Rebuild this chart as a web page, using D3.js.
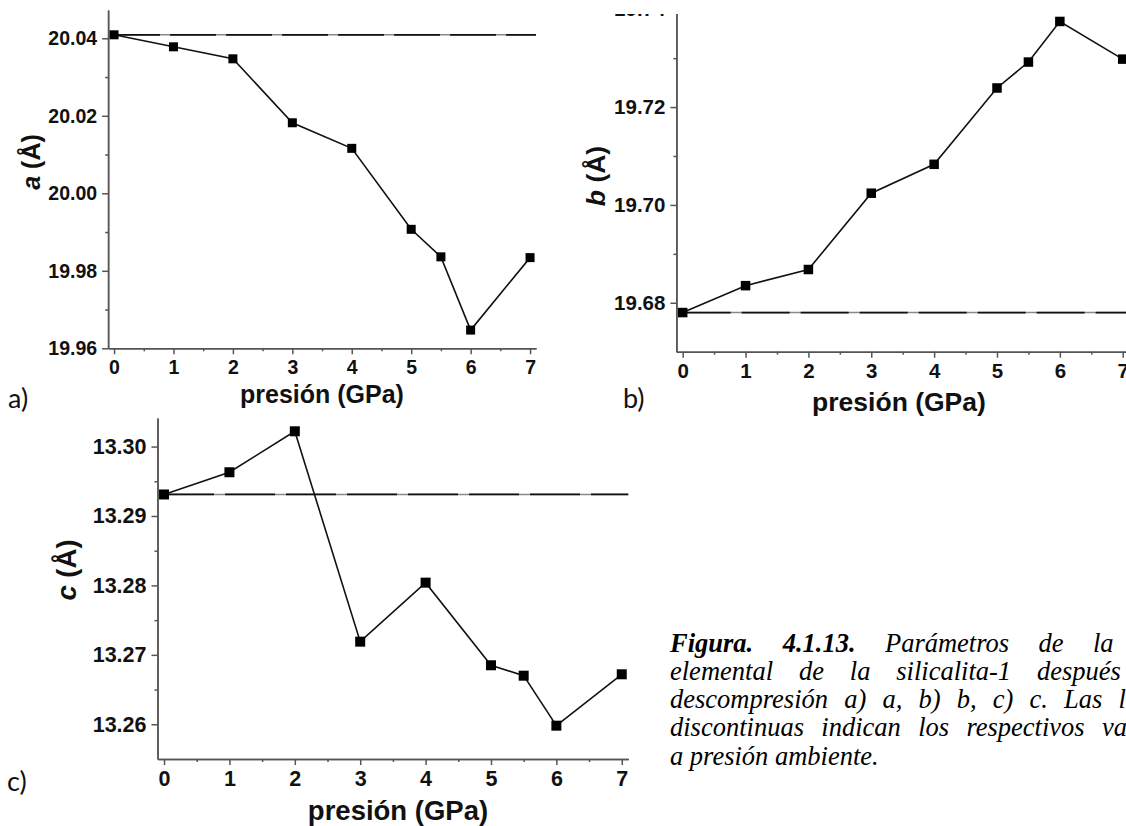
<!DOCTYPE html>
<html>
<head>
<meta charset="utf-8">
<script src="https://cdn.jsdelivr.net/npm/d3@7"></script>
<style>
  body { margin: 0; background: #fff; }
  svg { display: block; }
  .axis path, .axis line { stroke: #555; stroke-width: 1.5; }
  .axis text { font-family: "Liberation Sans", Arial, sans-serif; font-weight: bold; fill: #111; }
  .title { font-family: "Liberation Sans", Arial, sans-serif; font-weight: bold; fill: #111; }
  .tag { font-family: Lato, "Open Sans", sans-serif; fill: #111; }
  .caption { font-family: "Liberation Serif", "Times New Roman", serif; font-style: italic; fill: #000; font-size: 26.5px; }
</style>
</head>
<body>
<div id="chart"></div>
<script>
var W = 1126, H = 826;

// data
var pressure = [0, 1, 2, 3, 4, 5, 5.5, 6, 7];
var aValues = [20.0409, 20.0378, 20.0347, 20.0182, 20.0116, 19.9907, 19.9836, 19.9647, 19.9834];
var bValues = [19.6780, 19.6835, 19.6868, 19.7024, 19.7083, 19.7239, 19.7292, 19.7375, 19.7298];
var cValues = [13.2931, 13.2963, 13.3022, 13.2719, 13.2804, 13.2685, 13.2670, 13.2598, 13.2672];
var aAmbient = 20.0409, bAmbient = 19.6780, cAmbient = 13.2931;

var xTicks = [0, 1, 2, 3, 4, 5, 6, 7];
var xMinor = [0.5, 1.5, 2.5, 3.5, 4.5, 5.5, 6.5];
var aTicks = [19.96, 19.98, 20.00, 20.02, 20.04];
var aMinor = [19.97, 19.99, 20.01, 20.03];
var bTicks = [19.68, 19.70, 19.72, 19.74];
var bMinor = [19.69, 19.71, 19.73];
var cTicks = [13.26, 13.27, 13.28, 13.29, 13.30];
var cMinor = [13.265, 13.275, 13.285, 13.295];

var svg = d3.select("#chart").append("svg")
    .attr("width", W)
    .attr("height", H);

function panel(p) {
  var x = d3.scaleLinear().domain([-0.1, 7.1]).range(p.xr),
      y = d3.scaleLinear().domain(p.yd).range(p.yr),
      g = svg.append("g");

  var bottom = p.yr[0], left = p.xr[0];

  g.append("g").attr("class", "axis")
      .attr("transform", "translate(0," + bottom + ")")
      .call(d3.axisBottom(x).tickValues(xMinor).tickSize(3).tickSizeOuter(0).tickFormat(""));
  g.append("g").attr("class", "axis")
      .attr("transform", "translate(0," + bottom + ")")
      .call(d3.axisBottom(x).tickValues(xTicks).tickSize(6).tickSizeOuter(0).tickPadding(6)
        .tickFormat(d3.format("d")))
      .selectAll("text").style("font-size", p.fs + "px");

  g.append("g").attr("class", "axis")
      .attr("transform", "translate(" + left + ",0)")
      .call(d3.axisLeft(y).tickValues(p.minor).tickSize(3).tickSizeOuter(0).tickFormat(""));
  g.append("g").attr("class", "axis")
      .attr("transform", "translate(" + left + ",0)")
      .call(d3.axisLeft(y).tickValues(p.ticks).tickSize(6).tickSizeOuter(0).tickPadding(5)
        .tickFormat(d3.format(".2f")))
      .selectAll("text").style("font-size", p.fs + "px");

  // ambient pressure reference: black dashes over a grey line
  g.append("line")
      .attr("x1", x(0)).attr("x2", x(7.1))
      .attr("y1", y(p.ambient)).attr("y2", y(p.ambient))
      .attr("stroke", "#8a8a8a").attr("stroke-width", 1.4);
  g.append("line")
      .attr("x1", x(0)).attr("x2", x(7.1))
      .attr("y1", y(p.ambient)).attr("y2", y(p.ambient))
      .attr("stroke", "#111").attr("stroke-width", 1.8)
      .attr("stroke-dasharray", p.dash);

  var pts = pressure.map(function(d, i) { return [x(d), y(p.values[i])]; });

  g.append("path")
      .attr("d", d3.line()(pts))
      .attr("fill", "none")
      .attr("stroke", "#111")
      .attr("stroke-width", 1.6);

  g.selectAll("rect.m")
      .data(pts)
    .enter().append("rect")
      .attr("class", "m")
      .attr("x", function(d) { return d[0] - p.ms / 2; })
      .attr("y", function(d) { return d[1] - p.ms / 2; })
      .attr("width", p.ms)
      .attr("height", p.ms)
      .attr("fill", "#000");

  g.append("text").attr("class", "title")
      .attr("x", p.xt[0]).attr("y", p.xt[1])
      .attr("text-anchor", "middle")
      .style("font-size", p.ts + "px")
      .text("presión (GPa)");

  var yt = g.append("text").attr("class", "title")
      .attr("transform", "translate(" + p.yt[0] + "," + p.yt[1] + ")rotate(-90)")
      .attr("text-anchor", "middle")
      .attr("dominant-baseline", "central")
      .style("font-size", p.ts + "px");
  yt.append("tspan").style("font-style", "italic").text(p.name);
  yt.append("tspan").text(" (Å)");

  g.append("text").attr("class", "tag")
      .attr("x", p.tag[0]).attr("y", p.tag[1])
      .attr("dominant-baseline", "central")
      .style("font-size", "27px")
      .text(p.name + ")");

  return g;
}

panel({
  name: "a", values: aValues, ambient: aAmbient, ticks: aTicks, minor: aMinor,
  xr: [108.1, 536], yd: [19.96, 20.0473], yr: [348.3, 10],
  fs: 19.5, ts: 25, ms: 9, dash: "46,10",
  xt: [322, 403], yt: [31, 162], tag: [8, 397]
});

panel({
  name: "b", values: bValues, ambient: bAmbient, ticks: bTicks, minor: bMinor,
  xr: [676.4, 1129], yd: [19.67, 19.7435], yr: [351.7, -7.9],
  fs: 20.5, ts: 26.5, ms: 9.5, dash: "48,11",
  xt: [899, 411], yt: [596, 176], tag: [623, 397]
});

// the top of panel b is cropped in the source figure
svg.append("rect").attr("x", 560).attr("y", 0).attr("width", W - 560).attr("height", 14).attr("fill", "#fff");

panel({
  name: "c", values: cValues, ambient: cAmbient, ticks: cTicks, minor: cMinor,
  xr: [157.5, 628.3], yd: [13.255, 13.3041], yr: [759, 418.1],
  fs: 21.5, ts: 27.5, ms: 10, dash: "50,11",
  xt: [398, 820], yt: [66, 570], tag: [7, 780]
});

// caption: justified lines, the block runs past the right edge of the page
var captionLines = [
  { y: 651.7, words: ["Figura.", "4.1.13.", "Parámetros", "de", "la"], bold: 2, anchor: 4, at: 1093 },
  { y: 680.2, words: ["elemental", "de", "la", "silicalita-1", "después"], bold: 0, anchor: 4, at: 1037 },
  { y: 708.3, words: ["descompresión", "a)", "a,", "b)", "b,", "c)", "c.", "Las", "líneas"], bold: 0, anchor: 7, at: 1064 },
  { y: 736.3, words: ["discontinuas", "indican", "los", "respectivos", "valores"], bold: 0, anchor: 4, at: 1102 },
  { y: 765, words: ["a", "presión", "ambiente."], bold: 0, anchor: 0, at: 0 }
];
var captionX = 670;

captionLines.forEach(function(line) {
  var nodes = line.words.map(function(w, i) {
    return svg.append("text").attr("class", "caption")
        .attr("y", line.y)
        .style("font-weight", i < line.bold ? "bold" : "normal")
        .text(w);
  });
  var widths = nodes.map(function(n) { return n.node().getComputedTextLength(); });
  var gap = 6.6;
  if (line.anchor > 0) {
    var used = d3.sum(widths.slice(0, line.anchor));
    gap = Math.max(6.6, (line.at - captionX - used) / line.anchor);
  }
  var cx = captionX;
  nodes.forEach(function(n, i) {
    n.attr("x", cx);
    cx += widths[i] + gap;
  });
});
</script>
</body>
</html>
